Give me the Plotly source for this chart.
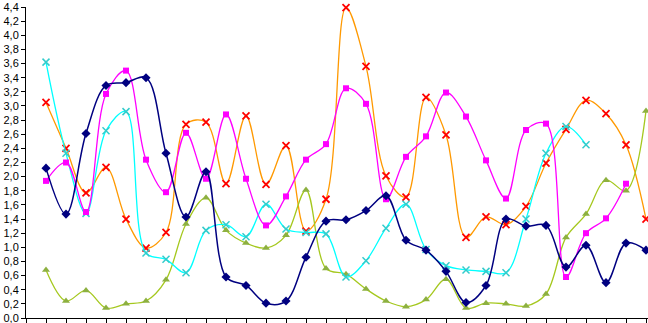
import plotly.graph_objects as go

x = list(range(1, 32))

navy = [2.12, 1.47, 2.61, 3.29, 3.33, 3.40, 2.33, 1.43, 2.07, 0.58,
        0.46, 0.21, 0.24, 0.86, 1.37, 1.39, 1.52, 1.73, 1.10, 0.96,
        0.66, 0.22, 0.46, 1.40, 1.30, 1.31, 0.72, 1.03, 0.50, 1.06, 0.96]
magenta = [1.94, 2.20, 1.50, 3.17, 3.50, 2.24, 1.78, 2.62, 1.97, 2.88,
           1.97, 1.31, 1.72, 2.24, 2.46, 3.25, 3.03, 1.68, 2.28, 2.57,
           3.19, 2.85, 2.23, 1.69, 2.66, 2.75, 0.58, 1.20, 1.41, 1.90]
cyan = [3.62, 2.33, 1.48, 2.65, 2.92, 0.92, 0.83, 0.64, 1.24, 1.32,
        1.15, 1.61, 1.26, 1.21, 1.19, 0.58, 0.81, 1.27, 1.61, 0.97,
        0.74, 0.68, 0.66, 0.64, 1.40, 2.33, 2.71, 2.45]
green = [0.68, 0.24, 0.39, 0.14, 0.20, 0.24, 0.54, 1.33, 1.70, 1.24,
         1.06, 0.99, 1.17, 1.81, 0.70, 0.62, 0.41, 0.24, 0.16, 0.26,
         0.55, 0.14, 0.21, 0.20, 0.17, 0.34, 1.14, 1.47, 1.95, 1.80, 2.93]
orange = [3.05, 2.40, 1.77, 2.13, 1.40, 0.99, 1.21, 2.74, 2.77, 1.90,
          2.86, 1.89, 2.44, 1.23, 1.68, 4.39, 3.56, 2.01, 1.71, 3.12,
          2.59, 1.14, 1.43, 1.32, 1.58, 2.19, 2.67, 3.08, 2.89, 2.45, 1.40]

y_ticks = [round(i * 0.2, 1) for i in range(23)]

fig = go.Figure()

def add(vals, line_color, marker_color, symbol, size, lw=1.3, mlw=0):
    fig.add_trace(go.Scatter(
        x=x[:len(vals)], y=vals, mode="lines+markers",
        line=dict(color=line_color, width=lw, shape="spline", smoothing=1.0),
        marker=dict(symbol=symbol, size=size, color=marker_color,
                    line=dict(color=marker_color, width=mlw)),
        showlegend=False, cliponaxis=False, hoverinfo="skip"))

add(orange, "#FF9900", "#FF0000", "x-thin-open", 7, lw=1.3, mlw=1.8)
add(green, "#A5C81E", "#8DB040", "triangle-up", 7)
add(cyan, "#00FFFF", "#33CCCC", "x-thin-open", 7, mlw=1.5)
add(magenta, "#FF00FF", "#FF00FF", "square", 6)
add(navy, "#000080", "#000080", "diamond", 7, lw=1.5)

fig.update_layout(
    width=648, height=323,
    margin=dict(l=26, r=0, t=7, b=5, pad=0, autoexpand=False),
    paper_bgcolor="white", plot_bgcolor="white",
    separators=",.",
    font=dict(family="Liberation Sans, Arial, sans-serif", size=11, color="black"),
)
fig.update_xaxes(range=[0, 31.1], tickmode="array", tickvals=list(range(0, 32)),
                 showticklabels=False, ticks="outside", ticklen=4, tickcolor="black",
                 showline=True, linecolor="black", linewidth=1, showgrid=False,
                 zeroline=False, automargin=False)
fig.update_yaxes(range=[0, 4.4], tickmode="array", tickvals=y_ticks,
                 tickformat=".1f", ticks="outside", ticklen=4, tickcolor="black",
                 showline=True, linecolor="black", linewidth=1, showgrid=False,
                 zeroline=False, automargin=False, ticklabeloverflow="allow")

fig.write_html("out.html", config={"displayModeBar": False},
               post_script="document.body.style.margin='0';document.body.style.overflow='hidden';")
